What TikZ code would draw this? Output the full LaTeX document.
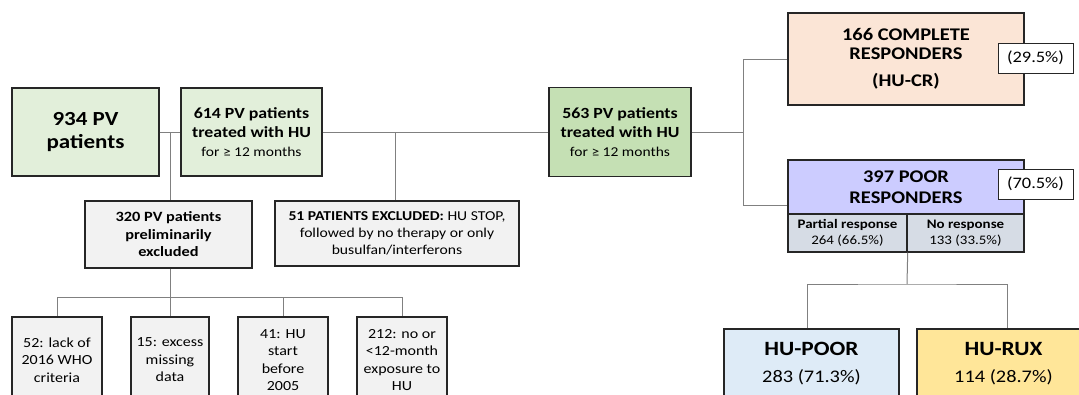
\documentclass[tikz,border=0pt]{standalone}
\usepackage{fontspec}
\setmainfont{Carlito}[FakeStretch=1.15]
\usetikzlibrary{positioning, calc}
\definecolor{cgreenlt}{HTML}{E2EFDA}
\definecolor{cgreendk}{HTML}{C5E0B4}
\definecolor{cpeach}{HTML}{FBE5D6}
\definecolor{clav}{HTML}{CCCCFF}
\definecolor{ccell}{HTML}{D6DCE5}
\definecolor{cblue}{HTML}{DEEBF7}
\definecolor{cyellow}{HTML}{FFE699}
\definecolor{cgreylt}{HTML}{F2F2F2}
\definecolor{cdark}{HTML}{262626}
\definecolor{clink}{HTML}{808080}
\newcommand{\fsz}[2]{\fontsize{#1}{#2}\selectfont}
\tikzset{
  box/.style={draw=cdark, fill=#1, line width=1.4pt, align=center, inner sep=2pt},
  box/.default=cgreylt,
  pct/.style={box=white, line width=1pt, minimum width=75, minimum height=30, font=\fsz{16}{18}},
  cell/.style={box=ccell, minimum height=38, font=\fsz{13}{15.5}},
  link/.style={draw=clink, line width=1pt},
}

\begin{document}
\begin{tikzpicture}[x=1pt, y=-1pt]
  \path[use as bounding box, clip] (0,0) rectangle (1079,394);
  % junctions
  \coordinate (j1) at (170,132);
  \coordinate (j2) at (395,132);
  \coordinate (j5) at (170,297);
  \coordinate (j4) at (907,284);
  % left part
  \node[box=cgreenlt, minimum width=147, minimum height=88, font=\fsz{20}{23}\bfseries] (all) at (85.5,132) {934 PV\\patients};
  \node[box=cgreenlt, minimum width=141, minimum height=88, font=\fsz{15.5}{19}] (hu614) at (251.5,132) {\textbf{614 PV patients}\\\textbf{treated with HU}\\{\fsz{13.5}{19}for ≥ 12 months}};
  \node[box, minimum width=167, minimum height=67, font=\fsz{14.2}{17.5}\bfseries] (pre320) at (168.5,234.5) {320 PV patients\\preliminarily\\excluded};
  \node[box, minimum width=244, minimum height=65, font=\fsz{13.6}{17}] (stop51) at (397,233.5) {\textbf{51 PATIENTS EXCLUDED:} HU STOP,\\followed by no therapy or only\\busulfan/interferons};
  \foreach \x/\w/\n/\t in {57/90/c52/{52: lack of\\2016 WHO\\criteria}, 170/78/c15/{15: excess\\missing\\data}, 283/90/c41/{41: HU\\start\\before\\2005}, 402/90/c212/{212: no or\\<12-month\\exposure to\\HU}}
    { \node[box, minimum width=\w, minimum height=86, font=\fsz{13.9}{17.5}] (\n) at (\x,360) {\t}; }
  % middle
  \node[box=cgreendk, minimum width=142, minimum height=89, font=\fsz{15.5}{19}] (hu563) at (620,132) {\textbf{563 PV patients}\\\textbf{treated with HU}\\{\fsz{13.5}{19}for ≥ 12 months}};
  \coordinate (j3) at ([xshift=52]hu563.east);
  % right part
  \node[box=cpeach, minimum width=236, minimum height=92, font=\fsz{17.8}{19}\bfseries] (cr166) at (906,59) {166 COMPLETE\\RESPONDERS\\[8pt](HU-CR)};
  \node[pct] (pcr) at (1035.5,58) {(29.5\%)};
  \node[box=clav, minimum width=236, minimum height=54, font=\fsz{17.8}{21}\bfseries] (poor397) at (906,187) {397 POOR\\RESPONDERS};
  \node[pct] (ppr) at (1035.5,184) {(70.5\%)};
  \node[cell, minimum width=119] (part) at (847.5,233) {\textbf{Partial response}\\264 (66.5\%)};
  \node[cell, minimum width=117] (nores) at (965.5,233) {\textbf{No response}\\133 (33.5\%)};
  \coordinate (pin) at ([yshift=-18]poor397.west);
  \node[box=cblue, minimum width=175, minimum height=70, font=\fsz{17.7}{27}] (hupoor) at (811.5,364) {{\fsz{20.3}{27}\bfseries HU-POOR}\\283 (71.3\%)};
  \node[box=cyellow, minimum width=173, minimum height=70, font=\fsz{17.7}{27}] (hurux) at (1003.5,364) {{\fsz{20.3}{27}\bfseries HU-RUX}\\114 (28.7\%)};
  % connectors
  \draw[link] (all.east) -- (hu614.west);
  \draw[link] (j1) -- (j1 |- pre320.north);
  \draw[link] (hu614.east) -- (hu563.west);
  \draw[link] (j2) -- (j2 |- stop51.north);
  \draw[link] (j5 |- pre320.south) -- (j5);
  \foreach \n in {c52, c15, c41, c212}
    { \draw[link] (j5) -| (\n.north); }
  \draw[link] (hu563.east) -- (j3);
  \draw[link] (cr166.west) -| (j3) |- (pin);
  \draw[link] (part.south east) -- (j4);
  \draw[link] ([xshift=-4.5]hupoor.north) |- (j4) -| ([xshift=3.5]hurux.north);
\end{tikzpicture}
\end{document}
